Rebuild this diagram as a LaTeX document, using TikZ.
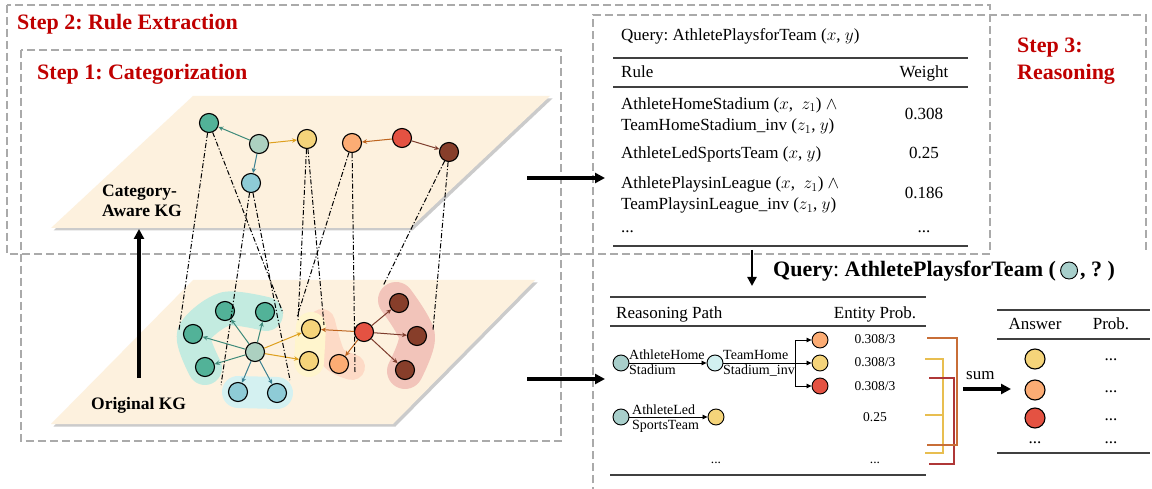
\documentclass[tikz,border=0pt]{standalone}
\usepackage{fontspec}
\setmainfont{Liberation Serif}
\usetikzlibrary{arrows.meta}
\frenchspacing
\definecolor{stepred}{RGB}{192,0,0}
\definecolor{plane}{RGB}{253,241,222}
\definecolor{cteal}{RGB}{82,178,152}
\definecolor{ccenter}{RGB}{172,208,192}
\definecolor{cyellow}{RGB}{245,212,122}
\definecolor{cblue}{RGB}{142,203,214}
\definecolor{corange}{RGB}{252,172,116}
\definecolor{cred}{RGB}{228,82,66}
\definecolor{cbrown}{RGB}{135,62,42}
\definecolor{cquery}{RGB}{168,207,203}
\definecolor{ccyan}{RGB}{210,240,240}
\definecolor{bmint}{RGB}{195,235,224}
\definecolor{bblue}{RGB}{212,241,241}
\definecolor{byellow}{RGB}{255,245,205}
\definecolor{borange}{RGB}{253,218,198}
\definecolor{bpink}{RGB}{242,196,186}
\definecolor{dashgray}{RGB}{170,170,170}
\definecolor{eteal}{RGB}{62,138,122}
\definecolor{eblue}{RGB}{58,128,145}
\definecolor{egold}{RGB}{222,160,30}
\definecolor{eorange}{RGB}{190,100,30}
\definecolor{ebrown}{RGB}{125,60,45}
\definecolor{korange}{RGB}{200,110,55}
\definecolor{kyellow}{RGB}{232,190,80}
\definecolor{kred}{RGB}{175,55,55}
\begin{document}
\begin{tikzpicture}[x=1pt,y=-1pt,
  dbox/.style={draw=dashgray, line width=1.8pt, dash pattern=on 8pt off 4pt},
  steplbl/.style={text=stepred, font=\bfseries\fontsize{22}{26.6}\selectfont, inner sep=0pt, align=left},
  kglbl/.style={font=\bfseries\fontsize{17.5}{20}\selectfont, inner sep=0pt, align=left},
  gn/.style={circle, draw=black, line width=1.1pt, minimum size=19pt, inner sep=0pt},
  sn/.style={circle, draw=black, line width=0.9pt, minimum size=16pt, inner sep=0pt},
  ge/.style={line width=1pt, -{Stealth[length=5pt,width=4.5pt]}},
  ddline/.style={draw=black, line width=1pt, dash pattern=on 5pt off 2pt on 1.2pt off 2pt},
  bigarrow/.style={line width=3.2pt, -{Triangle[length=10pt,width=10pt]}},
  trule/.style={draw=black!75, line width=1.3pt},
  tabtxt/.style={font=\fontsize{17}{21.4}\selectfont, inner sep=0pt, align=left},
  pathtxt/.style={font=\fontsize{14}{15}\selectfont, inner sep=0pt, align=left},
  probtxt/.style={font=\fontsize{13.5}{15}\selectfont, inner sep=0pt},
  pa/.style={line width=0.8pt, -{Triangle[length=5pt,width=4.5pt]}},
  blob/.style={line cap=round, line join=round},
  brk/.style={line width=1.3pt},
]
\useasboundingbox (0,0) rectangle (1152,489);
\fill[white] (0,0) rectangle (1152,489);

% ---------- dashed step boxes ----------
\draw[dbox] (7,5) rectangle (990,254);
\draw[dbox] (21,50) rectangle (561,441);
\draw[dbox] (593,495) -- (593,15) -- (1146,15) -- (1146,250);

\node[steplbl, anchor=base west] (s2) at (17,29.3) {Step 2: Rule Extraction};
\node[steplbl, anchor=base west] (s1) at (37,79.3) {Step 1: Categorization};
\node[steplbl, anchor=base west] (s3) at (1017,79.3) {Step 3:\\Reasoning};

% ---------- planes ----------
\fill[black!40, opacity=0.5, shift={(2.5,2.5)}] (51,228) -- (410,228) -- (550,96) -- (193,96) -- cycle;
\fill[plane] (51,228) -- (410,228) -- (550,96) -- (193,96) -- cycle;
\fill[black!40, opacity=0.5, shift={(2.5,2.5)}] (51,424) -- (393,424) -- (535,280) -- (193,280) -- cycle;
\fill[plane] (51,424) -- (393,424) -- (535,280) -- (193,280) -- cycle;

\node[kglbl, anchor=base west] (lcat) at (102,217) {Category-\\Aware KG};
\node[kglbl, anchor=base west] (lorig) at (91,409) {Original KG};

% ---------- blobs ----------
\draw[blob, borange, line width=26pt] plot[smooth] coordinates {(322,322) (333,357) (352,367)};
\draw[blob, bpink, line width=36pt] plot[smooth] coordinates {(396,300) (417,336) (405,371)};
\draw[blob, bmint, line width=34pt] plot[smooth] coordinates {(266,314) (225,309) (194,334) (205,368)};
\draw[blob, bblue, line width=32pt] (238,392) -- (277,393);
\draw[blob, byellow, line width=30pt] (311,327) -- (309,362);

% ---------- upper graph ----------
\node[gn, fill=cteal] (uA) at (209,123) {};
\node[gn, fill=ccenter] (uB) at (259,144) {};
\node[gn, fill=cyellow] (uC) at (307,139) {};
\node[gn, fill=cblue] (uD) at (251,183) {};
\node[gn, fill=corange] (uE) at (352,143) {};
\node[gn, fill=cred] (uF) at (402,138) {};
\node[gn, fill=cbrown] (uG) at (449,152) {};
\draw[ge, eteal] (uB) -- (uA);
\draw[ge, egold] (uB) -- (uC);
\draw[ge, eblue] (uB) -- (uD);
\draw[ge, eorange] (uF) -- (uE);
\draw[ge, ebrown] (uF) -- (uG);

% ---------- lower graph ----------
\node[gn, fill=cteal] (lT1) at (225,311) {};
\node[gn, fill=cteal] (lT2) at (265,312) {};
\node[gn, fill=cteal] (lT3) at (193,334) {};
\node[gn, fill=cteal] (lT4) at (205,367) {};
\node[gn, fill=ccenter] (lC) at (255,352) {};
\node[gn, fill=cblue] (lB1) at (238,392) {};
\node[gn, fill=cblue] (lB2) at (277,393) {};
\node[gn, fill=cyellow] (lY1) at (311,329) {};
\node[gn, fill=cyellow] (lY2) at (309,361) {};
\node[gn, fill=cred] (lR) at (364,332) {};
\node[gn, fill=corange] (lO) at (339,364) {};
\node[gn, fill=cbrown] (lW1) at (399,303) {};
\node[gn, fill=cbrown] (lW2) at (417,336) {};
\node[gn, fill=cbrown] (lW3) at (405,370) {};
\foreach \t in {lT1,lT2,lT3,lT4} \draw[ge, eteal] (lC) -- (\t);
\foreach \t in {lB1,lB2} \draw[ge, eblue] (lC) -- (\t);
\foreach \t in {lY1,lY2} \draw[ge, egold] (lC) -- (\t);
\draw[ge, eorange] (lR) -- (lY1);
\draw[ge, eorange] (lR) -- (lO);
\foreach \t in {lW1,lW2,lW3} \draw[ge, ebrown] (lR) -- (\t);

% ---------- projection lines ----------
\coordinate (a1) at (179,330); \coordinate (a2) at (283,313);
\coordinate (d1) at (221,385); \coordinate (d2) at (290,380);
\coordinate (c1) at (298,320); \coordinate (c2) at (324,325);
\coordinate (e1) at (297,317); \coordinate (e2) at (355,372);
\coordinate (g1) at (383,286); \coordinate (g2) at (433,330);
\draw[ddline] (uA) -- (a1); \draw[ddline] (uA) -- (a2);
\draw[ddline] (uD) -- (d1); \draw[ddline] (uD) -- (d2);
\draw[ddline] (uC) -- (c1); \draw[ddline] (uC) -- (c2);
\draw[ddline] (uE) -- (e1); \draw[ddline] (uE) -- (e2);
\draw[ddline] (uG) -- (g1); \draw[ddline] (uG) -- (g2);

% ---------- big arrows ----------
\coordinate (vA0) at (139,378); \coordinate (vA1) at (139,229);
\draw[bigarrow] (vA0) -- (vA1);
\coordinate (h10) at (527,178); \coordinate (h11) at (605,178);
\draw[bigarrow] (h10) -- (h11);
\coordinate (h20) at (527,379); \coordinate (h21) at (605,379);
\draw[bigarrow] (h20) -- (h21);

% ---------- rule table ----------
\node[tabtxt, anchor=base west] (rq) at (621,40.7) {Query: AthletePlaysforTeam ($x$, $y$)};
\draw[trule] (613,58) -- (968,58);
\node[tabtxt, anchor=base west] (rh1) at (621,78) {Rule};
\node[tabtxt, anchor=base] (rh2) at (924,78) {Weight};
\draw[trule] (613,87) -- (968,87);
\node[tabtxt, anchor=base west] (r1) at (621,130.7) {AthleteHomeStadium ($x$,\ \ $z_1$) $\wedge$\\TeamHomeStadium\_inv ($z_1$, $y$)};
\node[tabtxt, anchor=base] (w1) at (924,119.3) {0.308};
\node[tabtxt, anchor=base west] (r2) at (621,159) {AthleteLedSportsTeam ($x$, $y$)};
\node[tabtxt, anchor=base] (w2) at (924,159) {0.25};
\node[tabtxt, anchor=base west] (r3) at (621,210) {AthletePlaysinLeague ($x$,\ \ $z_1$) $\wedge$\\TeamPlaysinLeague\_inv ($z_1$, $y$)};
\node[tabtxt, anchor=base] (w3) at (924,198.7) {0.186};
\node[tabtxt, anchor=base west] (r4) at (621,233) {...};
\node[tabtxt, anchor=base] (w4) at (924,233) {...};
\draw[trule] (613,246) -- (968,246);

% ---------- query ----------
\coordinate (dv0) at (752,250); \coordinate (dv1) at (752,286);
\draw[line width=2.6pt, -{Triangle[length=9pt,width=9pt]}] (dv0) -- (dv1);
\node[anchor=base west, inner sep=0pt, font=\fontsize{22}{26}\selectfont] (bq1) at (773,277) {\textbf{Query}: \textbf{AthletePlaysforTeam (}};
\node[sn, minimum size=17pt, fill=cquery] (bqc) at ([xshift=13pt,yshift=6.5pt]bq1.base east) {};
\node[anchor=base west, inner sep=0pt, font=\fontsize{22}{26}\selectfont] (bq2) at ([xshift=2pt]bqc.east |- bq1.base) {\textbf{, ? )}};

% ---------- reasoning table ----------
\draw[trule] (610,297) -- (926,297);
\node[tabtxt, anchor=base west] (ph1) at (616,318.3) {Reasoning Path};
\node[tabtxt, anchor=base] (ph2) at (875,318.3) {Entity Prob.};
\draw[trule] (610,326) -- (926,326);

\node[sn, fill=cquery] (p1) at (621,363) {};
\node[sn, fill=ccyan] (p2) at (715,363) {};
\node[sn, fill=corange] (p3) at (820,340) {};
\node[sn, fill=cyellow] (p4) at (820,363) {};
\node[sn, fill=cred] (p5) at (820,386) {};
\draw[pa] (p1) -- (p2);
\node[pathtxt, anchor=base west] (pl1) at (629,374) {AthleteHome\\Stadium};
\node[pathtxt, anchor=base west] (pl2) at (723,374) {TeamHome\\Stadium\_inv};
\draw[pa] (p2) -- (p4);
\coordinate (br) at (795,363);
\draw[pa] (br) |- (p3);
\draw[pa] (br) |- (p5);
\node[probtxt, anchor=base] (pr1) at (875,343.3) {0.308/3};
\node[probtxt, anchor=base] (pr2) at (875,366.7) {0.308/3};
\node[probtxt, anchor=base] (pr3) at (875,390) {0.308/3};

\node[sn, fill=cquery] (q1) at (621,417) {};
\node[sn, fill=cyellow] (q2) at (716,417) {};
\draw[pa] (q1) -- (q2);
\node[pathtxt, anchor=base west] (ql1) at (632,429) {AthleteLed\\SportsTeam};
\node[probtxt, anchor=base] (pr4) at (875,421.7) {0.25};
\node[probtxt, anchor=base] (pd1) at (716,463.3) {...};
\node[probtxt, anchor=base] (pd2) at (875,463.3) {...};
\draw[trule] (610,475) -- (926,475);

% ---------- brackets ----------
\draw[brk, kyellow] (925,359) -| (943,453) -- (925,453);
\draw[brk, kyellow] (925,415) -- (943,415);
\draw[brk, kred] (929,378) -| (954,464) -- (929,464);
\draw[brk, korange] (927,338) -| (957,445) -- (927,445);

\node[tabtxt, anchor=base west] (sum) at (966,379.3) {sum};
\coordinate (sa0) at (963,389); \coordinate (sa1) at (1011,389);
\draw[bigarrow] (sa0) -- (sa1);

% ---------- answer table ----------
\draw[trule] (997,310) -- (1150,310);
\node[tabtxt, anchor=base] (ah1) at (1035,330) {Answer};
\node[tabtxt, anchor=base] (ah2) at (1111,330) {Prob.};
\draw[trule] (997,339) -- (1150,339);
\node[gn, minimum size=20pt, fill=cyellow] (an1) at (1035,359) {};
\node[gn, minimum size=20pt, fill=corange] (an2) at (1035,390) {};
\node[gn, minimum size=20pt, fill=cred] (an3) at (1035,418) {};
\node[tabtxt, anchor=base] (an4) at (1035,443) {...};
\node[tabtxt, anchor=base] (ap1) at (1111,360) {...};
\node[tabtxt, anchor=base] (ap2) at (1111,392) {...};
\node[tabtxt, anchor=base] (ap3) at (1111,420) {...};
\node[tabtxt, anchor=base] (ap4) at (1111,443) {...};
\draw[trule] (997,453) -- (1150,453);
\end{tikzpicture}
\end{document}
